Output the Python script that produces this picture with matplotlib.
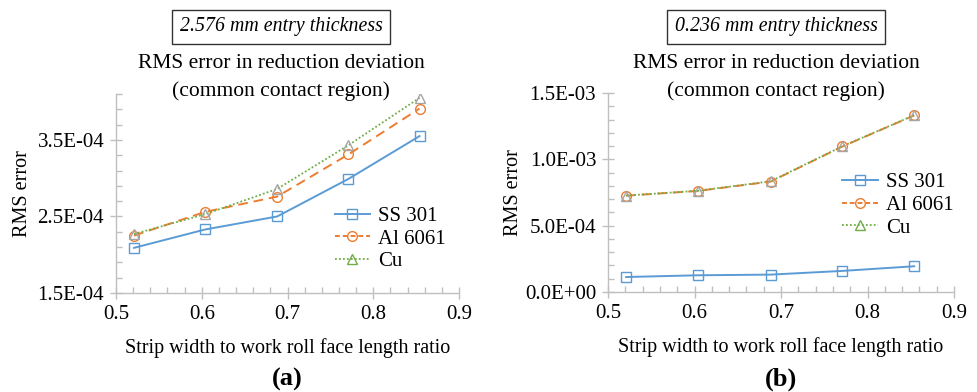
import matplotlib.pyplot as plt
from matplotlib.lines import Line2D
from matplotlib.ticker import MultipleLocator, FuncFormatter

plt.rcParams['font.family'] = ['Liberation Serif', 'DejaVu Serif']

# strip width / work roll face length ratio
ratio = [0.521, 0.604, 0.688, 0.771, 0.854]

# RMS error, 2.576 mm entry thickness
ss_thick = [2.09e-4, 2.33e-4, 2.50e-4, 2.99e-4, 3.55e-4]
al_thick = [2.25e-4, 2.56e-4, 2.76e-4, 3.31e-4, 3.91e-4]
cu_thick = [2.27e-4, 2.53e-4, 2.86e-4, 3.43e-4, 4.05e-4]

# RMS error, 0.236 mm entry thickness
ss_thin = [1.13e-4, 1.26e-4, 1.31e-4, 1.59e-4, 1.94e-4]
al_thin = [7.26e-4, 7.62e-4, 8.32e-4, 10.97e-4, 13.31e-4]
cu_thin = [7.27e-4, 7.63e-4, 8.35e-4, 10.98e-4, 13.33e-4]

materials = ['SS 301', 'Al 6061', 'Cu']
panel_labels = ['(a)', '(b)']
thickness = ['2.576 mm entry thickness', '0.236 mm entry thickness']

BLUE = '#5B9BD5'
ORANGE = '#ED7D31'
GREEN = '#70AD47'
GREY = '#A5A5A5'
AXIS = '#BFBFBF'


def sci(v, pos):
    s = '%.1E' % v
    mant, exp = s.split('E')
    return '%sE%s%02d' % (mant, exp[0], abs(int(exp)))


def draw_panel(ax, ss, al, cu, ylim, major, minor, offset):
    ax.plot(ratio, ss, color=BLUE, lw=1.4, marker='s', ms=7,
            mfc='none', mec=BLUE, mew=1.0)
    ax.plot(ratio, al, color=ORANGE, lw=1.4, ls=(0, (5, 3)), marker='o', ms=7,
            mfc='none', mec=ORANGE, mew=1.0)
    ax.plot(ratio, cu, color=GREEN, lw=1.3, ls=(0, (1, 1.2)), marker='^', ms=7,
            mfc='none', mec=GREY, mew=1.0)

    ax.set_xlim(0.5, 0.9)
    ax.set_ylim(*ylim)
    ax.xaxis.set_major_locator(MultipleLocator(0.1))
    ax.xaxis.set_minor_locator(MultipleLocator(0.02))
    ax.yaxis.set_major_locator(MultipleLocator(major, offset=offset))
    ax.yaxis.set_minor_locator(MultipleLocator(minor, offset=offset % minor))
    ax.xaxis.set_major_formatter(FuncFormatter(lambda v, p: '%.1f' % v))
    ax.yaxis.set_major_formatter(FuncFormatter(sci))

    for side in ['top', 'right']:
        ax.spines[side].set_visible(False)
    for side in ['left', 'bottom']:
        ax.spines[side].set_color(AXIS)
        ax.spines[side].set_linewidth(1.0)
    ax.tick_params(which='major', direction='inout', length=9, width=1.0,
                   color=AXIS, labelsize=15, pad=4)
    ax.tick_params(which='minor', direction='in', length=4, width=1.0, color=AXIS)

    ax.set_xlabel('Strip width to work roll face length ratio', fontsize=14.5, labelpad=10)
    ax.set_ylabel('RMS error', fontsize=14.5)


fig = plt.figure(figsize=(9.77, 3.92), dpi=100)
ax1 = fig.add_axes([116 / 977, 1 - 293 / 392, 343 / 977, 199 / 392])
ax2 = fig.add_axes([608 / 977, 1 - 292 / 392, 346 / 977, 199 / 392])

draw_panel(ax1, ss_thick, al_thick, cu_thick, (1.5e-4, 4.1e-4), 1e-4, 2e-5, 0.5e-4)
draw_panel(ax2, ss_thin, al_thin, cu_thin, (0, 1.5e-3), 5e-4, 1e-4, 0.0)
ax1.yaxis.set_label_coords(-0.245, 0.5)
ax2.yaxis.set_label_coords(-0.245, 0.5)

handles = [
    Line2D([], [], color=BLUE, lw=1.4, marker='s', ms=7, mfc='none', mec=BLUE),
    Line2D([], [], color=ORANGE, lw=1.4, ls=(0, (2.5, 1.5)), marker='o', ms=7, mfc='none', mec=ORANGE),
    Line2D([], [], color=GREEN, lw=1.3, ls=(0, (1, 1.2)), marker='^', ms=7, mfc='none', mec=GREEN),
]
for ax, pos in [(ax1, (0.595, 0.035)), (ax2, (0.635, 0.20))]:
    ax.legend(handles, materials, loc='lower left', bbox_to_anchor=pos, frameon=False,
              fontsize=15, handlelength=1.7, handletextpad=0.4, labelspacing=0.15,
              borderpad=0.2)

for i, (cx, txt) in enumerate(zip([281, 776], thickness)):
    fig.text(cx / 977, 1 - 27 / 392, txt, ha='center', va='center', fontsize=14.3,
             style='italic',
             bbox=dict(boxstyle='square,pad=0.4', fc='white', ec='#333333', lw=1.0))
    fig.text(cx / 977, 1 - 64 / 392, 'RMS error in reduction deviation', ha='center',
             va='center', fontsize=15.5)
    fig.text(cx / 977, 1 - 91 / 392, '(common contact region)', ha='center',
             va='center', fontsize=15.5)

fig.text(287 / 977, 1 - 379 / 392, panel_labels[0], ha='center', va='center',
         fontsize=19, fontweight='bold')
fig.text(781 / 977, 1 - 379 / 392, panel_labels[1], ha='center', va='center',
         fontsize=19, fontweight='bold')

fig.savefig('out.png', dpi=100)
